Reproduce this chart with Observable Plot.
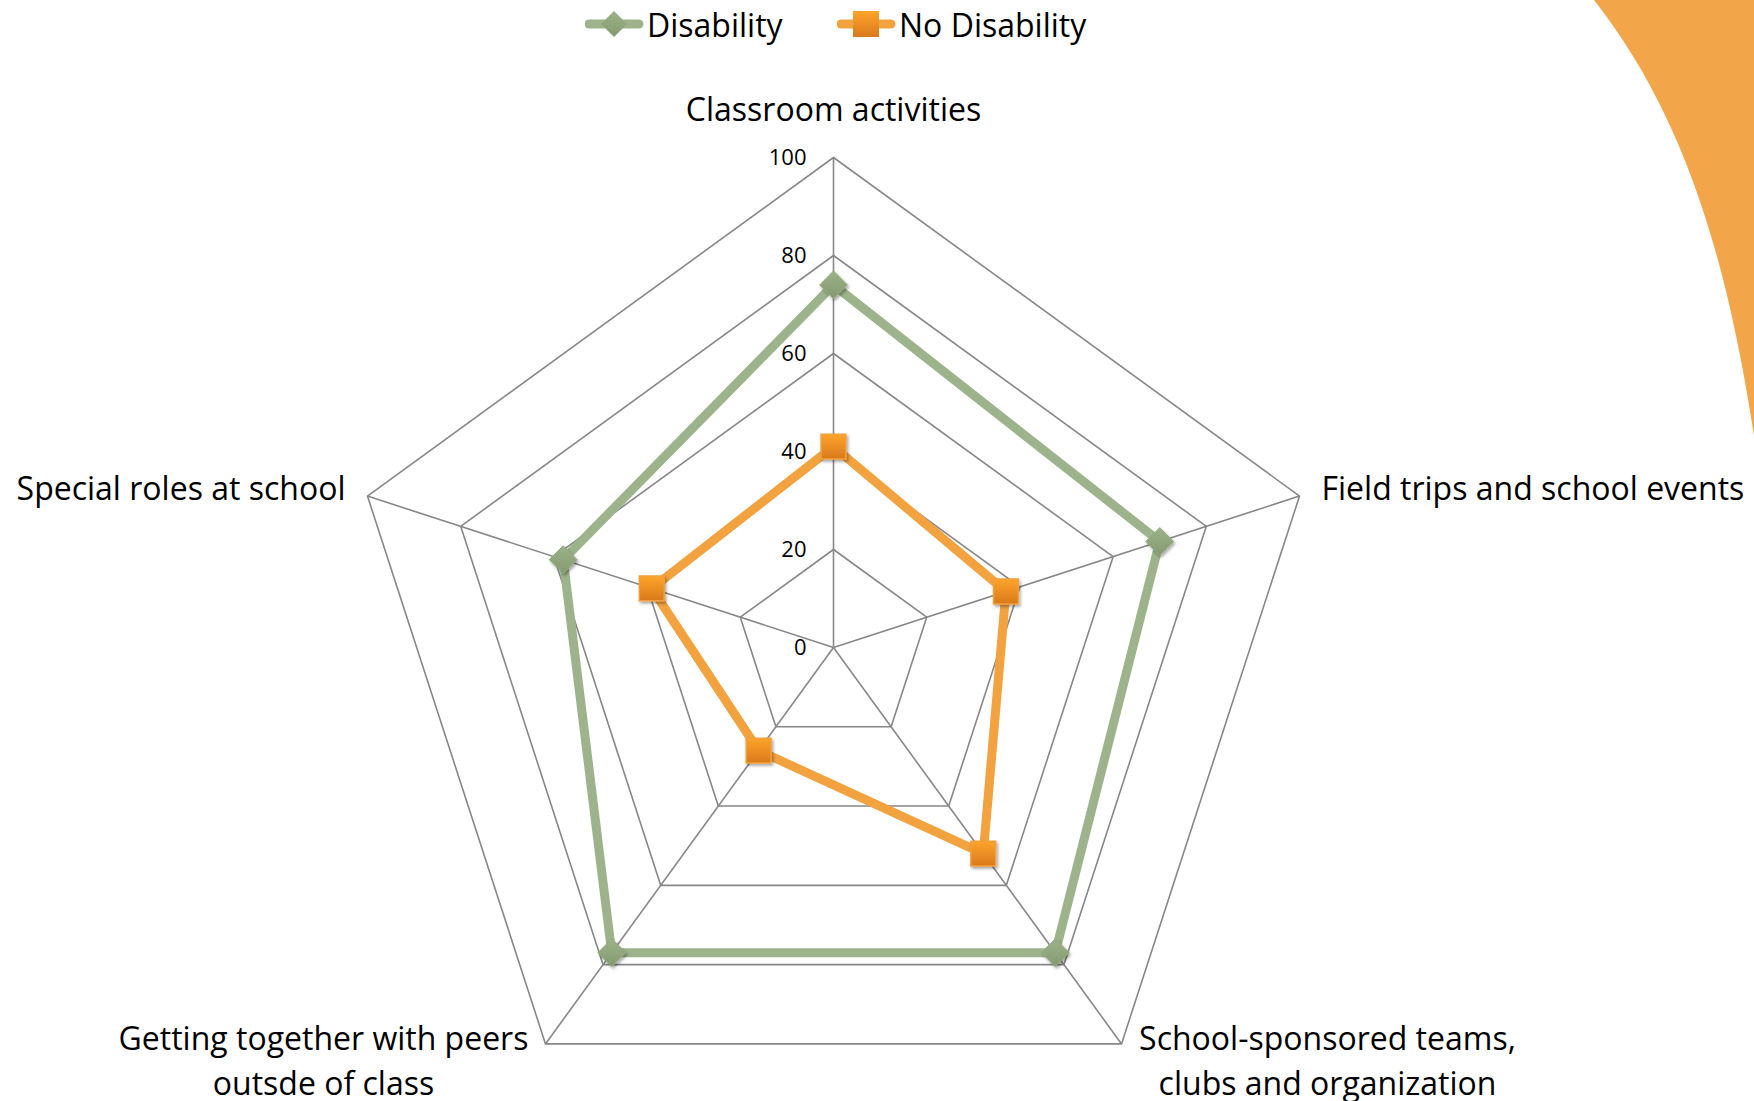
<!DOCTYPE html>
<html>
<head>
<meta charset="utf-8">
<script src="https://cdn.jsdelivr.net/npm/d3@7"></script>
<script src="https://cdn.jsdelivr.net/npm/@observablehq/plot@0.6"></script>
<style>
  html, body { margin: 0; padding: 0; background: #fff; }
  body { width: 1754px; height: 1101px; position: relative; overflow: hidden; font-family: "Open Sans", Lato, sans-serif; }
  #deco { position: absolute; left: 0; top: 0; }
  #legend { position: relative; height: 50px; width: 1754px; }
  #legend .item { position: absolute; top: -1px; height: 50px; display: flex; align-items: center; font-size: 32px; color: #000; }
  #chart { position: relative; }
</style>
</head>
<body>
<svg id="deco" width="1754" height="1101"><path d="M1594,0 C1682,112 1726,252 1754,436 L1754,0 Z" fill="#F2A649"/></svg>
<div id="legend"></div>
<div id="chart"></div>
<script>
// ---- data ----
const categories = [
  "Classroom activities",
  "Field trips and school events",
  "School-sponsored teams,\nclubs and organization",
  "Getting together with peers\noutsde of class",
  "Special roles at school"
];
const seriesNames = ["Disability", "No Disability"];
const disability = [74, 70, 77, 77, 58];
const noDisability = [41, 37, 52, 26, 39];
const tickValues = [0, 20, 40, 60, 80, 100];

// ---- styling / layout ----
const green = "#9DB38B";
const orange = "#F2A23F";
const W = 1754, H = 1051;
const cx = 833, cy = 597, pxPerUnit = 4.9;

const angle = i => (i * 2 * Math.PI) / categories.length;
const polar = (v, i) => ({x: v * Math.sin(angle(i)), y: v * Math.cos(angle(i))});

const rows = [];
[disability, noDisability].forEach((vals, s) => {
  vals.forEach((v, i) => rows.push({series: seriesNames[s], category: categories[i], value: v, ...polar(v, i)}));
});

const grid = [];
tickValues.filter(t => t > 0).forEach(t => categories.forEach((c, i) => grid.push({level: t, ...polar(t, i)})));
const spokes = categories.map((c, i) => ({category: c, ...polar(100, i)}));
const tickRows = tickValues.map(t => ({t, x: 0, y: t}));

const labelOpts = [
  {dx: 0, dy: 0, anchor: "middle", r: 110.4},
  {dx: 22, dy: -10, anchor: "start", r: 100},
  {dx: 206, dy: 14, anchor: "middle", r: 100},
  {dx: -222, dy: 14, anchor: "middle", r: 100},
  {dx: -22, dy: -10, anchor: "end", r: 100}
];
const labelMarks = categories.map((c, i) => {
  const o = labelOpts[i];
  return Plot.text([{c, ...polar(o.r, i)}], {
    x: "x", y: "y", text: "c", dx: o.dx, dy: o.dy, textAnchor: o.anchor,
    lineAnchor: "middle", lineHeight: 1.4, fontSize: 32, fill: "#000"
  });
});

function defs() {
  const ns = "http://www.w3.org/2000/svg";
  const d = document.createElementNS(ns, "defs");
  d.innerHTML = `
    <linearGradient id="gOrange" x1="0" y1="0" x2="0" y2="1">
      <stop offset="0" stop-color="#FDA42B"/><stop offset="1" stop-color="#D9791C"/>
    </linearGradient>
    <linearGradient id="gGreen" x1="0" y1="0" x2="0" y2="1">
      <stop offset="0" stop-color="#9CB288"/><stop offset="1" stop-color="#84996F"/>
    </linearGradient>
    <filter id="shadow" x="-50%" y="-50%" width="200%" height="200%">
      <feDropShadow dx="1.5" dy="2" stdDeviation="1.5" flood-color="#000" flood-opacity="0.35"/>
    </filter>`;
  return d;
}

const chart = Plot.plot({
  width: W, height: H,
  marginTop: 0, marginRight: 0, marginBottom: 0, marginLeft: 0,
  x: {domain: [-cx / pxPerUnit, (W - cx) / pxPerUnit], axis: null},
  y: {domain: [-(H - cy) / pxPerUnit, cy / pxPerUnit], axis: null},
  style: {fontFamily: "'Open Sans', Lato, sans-serif", background: "transparent", overflow: "visible"},
  marks: [
    defs,
    Plot.line(grid, {x: "x", y: "y", z: "level", curve: "linear-closed", stroke: "#878787", strokeWidth: 1.6}),
    Plot.link(spokes, {x1: 0, y1: 0, x2: "x", y2: "y", stroke: "#878787", strokeWidth: 1.6}),
    Plot.text(tickRows, {x: "x", y: "y", text: d => String(d.t), dx: -27, textAnchor: "end", fontSize: 22, fill: "#000"}),
    Plot.line(rows.filter(d => d.series === "Disability"), {x: "x", y: "y", curve: "linear-closed", stroke: green, strokeWidth: 9, strokeLinejoin: "round"}),
    Plot.line(rows.filter(d => d.series === "No Disability"), {x: "x", y: "y", curve: "linear-closed", stroke: orange, strokeWidth: 9, strokeLinejoin: "round"}),
    Plot.dot(rows.filter(d => d.series === "Disability"), {x: "x", y: "y", symbol: "diamond2", r: 12.5, fill: "url(#gGreen)", stroke: "#93A97F", strokeWidth: 1}),
    Plot.dot(rows.filter(d => d.series === "No Disability"), {x: "x", y: "y", symbol: "square", r: 14, fill: "url(#gOrange)", stroke: "#F2A03A", strokeWidth: 1.5}),
    ...labelMarks
  ]
});
chart.querySelectorAll("g[aria-label='dot'] path").forEach(p => p.setAttribute("filter", "url(#shadow)"));
document.getElementById("chart").appendChild(chart);

// ---- legend (HTML, above the SVG) ----
const legend = document.getElementById("legend");
const legendItems = [
  {name: seriesNames[0], color: green, left: 585, marker: `<path d="M29,10 L42,23 L29,36 L16,23 Z" fill="url(#lgG)"/>`},
  {name: seriesNames[1], color: orange, left: 837, marker: `<rect x="16" y="10" width="26" height="26" fill="url(#lgO)"/>`}
];
legendItems.forEach(it => {
  const div = document.createElement("div");
  div.className = "item";
  div.style.left = it.left + "px";
  div.innerHTML = `<svg width="60" height="46" style="margin-right:2px"><defs>
      <linearGradient id="lgO" x1="0" y1="0" x2="0" y2="1"><stop offset="0" stop-color="#FDA42B"/><stop offset="1" stop-color="#D9791C"/></linearGradient>
      <linearGradient id="lgG" x1="0" y1="0" x2="0" y2="1"><stop offset="0" stop-color="#9CB288"/><stop offset="1" stop-color="#84996F"/></linearGradient>
    </defs>
    <line x1="4" y1="23" x2="54" y2="23" stroke="${it.color}" stroke-width="9" stroke-linecap="round"/>${it.marker}</svg><span>${it.name}</span>`;
  legend.appendChild(div);
});
</script>
</body>
</html>
